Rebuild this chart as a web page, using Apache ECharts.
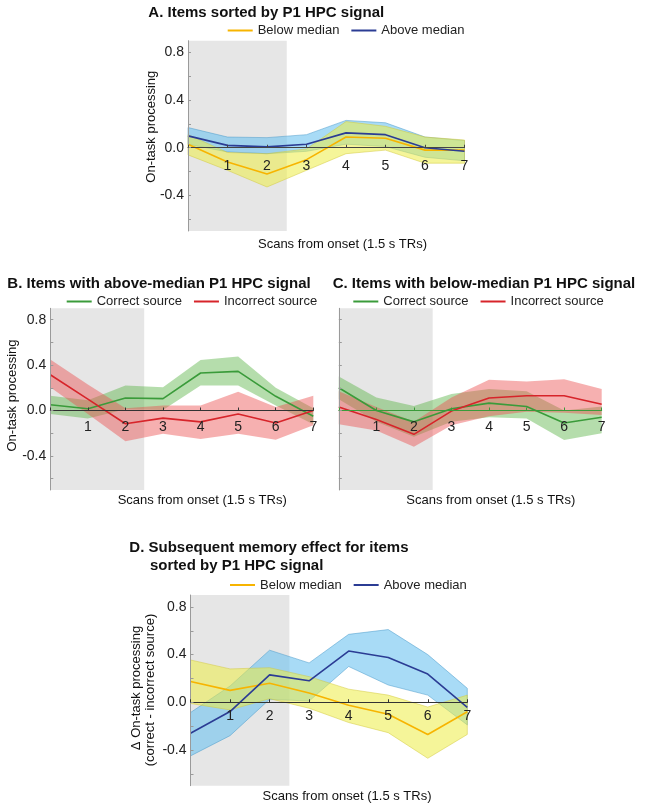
<!DOCTYPE html>
<html>
<head>
<meta charset="utf-8">
<script src="https://cdn.jsdelivr.net/npm/echarts@6/dist/echarts.min.js"></script>
<style>
html,body{margin:0;padding:0;background:#fff;}
#chart{width:647px;height:811px;}
</style>
</head>
<body>
<div id="chart"></div>
<script>
// ---------- data ----------
var xs = [0, 1, 2, 3, 4, 5, 6, 7];
var xTickLabels = ['', '1', '2', '3', '4', '5', '6', '7'];
var yTickValues = [-0.6, -0.4, -0.2, 0, 0.2, 0.4, 0.6, 0.8];
var yLabelValues = [-0.4, 0, 0.4, 0.8];
var yMin = -0.7, yMax = 0.9;
var shadeStart = 0, shadeEnd = 2.5;

// Panel A: items sorted by P1 HPC signal
var aBelow    = [0.03, -0.12, -0.22, -0.10, 0.09, 0.08, -0.02, -0.02];
var aBelowUp  = [0.11, -0.04, -0.05, -0.01, 0.22, 0.18, 0.09, 0.065];
var aBelowLo  = [-0.06, -0.19, -0.33, -0.19, -0.05, -0.02, -0.13, -0.13];
var aAbove    = [0.10, 0.02, 0.007, 0.03, 0.125, 0.11, 0.0, -0.03];
var aAboveUp  = [0.17, 0.09, 0.085, 0.11, 0.23, 0.21, 0.09, 0.06];
var aAboveLo  = [0.03, -0.035, -0.05, -0.03, 0.03, 0.01, -0.08, -0.11];

// Panel B: above-median P1 HPC signal
var bCorrect     = [0.05, 0.015, 0.11, 0.105, 0.33, 0.345, 0.125, -0.05];
var bCorrectUp   = [0.13, 0.09, 0.22, 0.205, 0.445, 0.475, 0.20, 0.02];
var bCorrectLo   = [-0.03, -0.07, 0.01, 0.005, 0.22, 0.22, 0.045, -0.12];
var bIncorrect   = [0.315, 0.10, -0.117, -0.067, -0.10, -0.03, -0.11, 0.0];
var bIncorrectUp = [0.45, 0.23, 0.02, 0.045, 0.045, 0.165, 0.03, 0.13];
var bIncorrectLo = [0.205, -0.03, -0.27, -0.205, -0.25, -0.205, -0.257, -0.13];

// Panel C: below-median P1 HPC signal
var cCorrect     = [0.2, 0.0, -0.1, 0.015, 0.065, 0.035, -0.11, -0.06];
var cCorrectUp   = [0.3, 0.115, 0.04, 0.145, 0.19, 0.17, 0.0, 0.035];
var cCorrectLo   = [0.1, -0.1, -0.23, -0.1, -0.06, -0.07, -0.26, -0.2];
var cIncorrect   = [0.03, -0.08, -0.21, -0.005, 0.11, 0.13, 0.13, 0.055];
var cIncorrectUp = [0.17, 0.03, -0.1, 0.115, 0.27, 0.255, 0.275, 0.19];
var cIncorrectLo = [-0.12, -0.175, -0.32, -0.13, -0.05, -0.01, -0.02, -0.04];

// Panel D: subsequent memory effect
var dBelow    = [0.175, 0.1, 0.16, 0.078, -0.025, -0.1, -0.27, -0.08];
var dBelowUp  = [0.355, 0.28, 0.29, 0.215, 0.11, 0.06, -0.04, 0.06];
var dBelowLo  = [-0.01, -0.064, 0.03, -0.05, -0.17, -0.255, -0.47, -0.27];
var dAbove    = [-0.26, -0.078, 0.23, 0.18, 0.43, 0.376, 0.237, -0.042];
var dAboveUp  = [-0.086, 0.136, 0.437, 0.33, 0.57, 0.61, 0.4, 0.117];
var dAboveLo  = [-0.45, -0.28, 0.025, 0.01, 0.3, 0.145, 0.06, -0.19];

// ---------- style ----------
var FONT = '"Liberation Sans", Arial, Helvetica, sans-serif';
var C_YEL = '#F7B400', C_BLU = '#2B3C94', C_GRN = '#3A9B3A', C_RED = '#D7242A';
var F_YEL = 'rgba(236,236,70,0.55)', F_BLU = 'rgba(110,195,240,0.6)';
var F_GRN = 'rgba(90,180,70,0.45)', F_RED = 'rgba(236,80,80,0.45)';
var E_YEL = 'rgba(210,200,60,0.7)', E_BLU = 'rgba(70,150,200,0.7)';

var grids = [
  {left: 188, top: 40.7, width: 276.5, height: 190.3},
  {left: 50.3, top: 308.3, width: 263, height: 181.7},
  {left: 338.8, top: 308.3, width: 262.9, height: 181.7},
  {left: 190.5, top: 595, width: 276.8, height: 190.7}
];
var xLabelMargins = [11, 10, 10, 7];

function xAxisFor(idx, color) {
  // place the axis (line, ticks, labels) on the y = 0 level of its grid
  var zeroOffset = -grids[idx].height * (0 - yMin) / (yMax - yMin);
  return {
    gridIndex: idx, type: 'value', min: 0, max: 7, interval: 1, z: 10,
    position: 'bottom', offset: zeroOffset,
    splitLine: {show: false},
    axisLine: {show: true, onZero: false, lineStyle: {color: color, width: 1}},
    axisTick: {show: true, inside: true, length: 3, lineStyle: {color: color}},
    axisLabel: {formatter: function (v) { return xTickLabels[v]; }, margin: xLabelMargins[idx],
      fontSize: 14, color: '#222', fontFamily: FONT, showMinLabel: true, showMaxLabel: true}
  };
}
function yAxisFor(idx, showLabels) {
  return {
    gridIndex: idx, type: 'value', min: yMin, max: yMax, z: 10,
    splitLine: {show: false},
    axisLine: {show: true, onZero: false, lineStyle: {color: '#9a9a9a', width: 1}},
    axisTick: {show: true, inside: true, length: 3, customValues: yTickValues, lineStyle: {color: '#9a9a9a'}},
    axisLabel: {show: showLabels, customValues: yLabelValues, formatter: function (v) { return v.toFixed(1); },
      margin: 4, fontSize: 14, color: '#222', fontFamily: FONT}
  };
}
function shade(idx) {
  return {
    type: 'custom', xAxisIndex: idx, yAxisIndex: idx, z: 1, silent: true,
    data: [[shadeStart, shadeEnd]],
    encode: {x: [0, 1]},
    renderItem: function (params, api) {
      var p0 = api.coord([shadeStart, yMax]);
      var p1 = api.coord([shadeEnd, yMin]);
      return {type: 'rect', shape: {x: p0[0], y: p0[1], width: p1[0] - p0[0], height: p1[1] - p0[1]},
        style: {fill: '#e6e6e6'}};
    }
  };
}
function band(idx, lo, up, fill, stroke, z) {
  return {
    type: 'custom', xAxisIndex: idx, yAxisIndex: idx, z: z, silent: true,
    data: xs.map(function (x, i) { return [x, lo[i], up[i]]; }),
    encode: {x: 0, y: [1, 2]},
    renderItem: function (params, api) {
      if (params.dataIndex !== 0) return null;
      var pts = [], i;
      for (i = 0; i < xs.length; i++) pts.push(api.coord([xs[i], up[i]]));
      for (i = xs.length - 1; i >= 0; i--) pts.push(api.coord([xs[i], lo[i]]));
      return {type: 'polygon', shape: {points: pts}, style: {fill: fill, stroke: stroke, lineWidth: 0.7}};
    }
  };
}
function line(idx, name, vals, color) {
  return {
    type: 'line', name: name, xAxisIndex: idx, yAxisIndex: idx, z: 5,
    data: xs.map(function (x, i) { return [x, vals[i]]; }),
    symbol: 'none', showSymbol: false, silent: true,
    itemStyle: {color: color},
    lineStyle: {color: color, width: 1.6}
  };
}
function legendFor(names, left, top) {
  return {
    data: names, left: left, top: top, orient: 'horizontal',
    icon: 'rect', itemWidth: 25, itemHeight: 2, itemGap: 12, selectedMode: false,
    padding: 0,
    textStyle: {fontSize: 13, color: '#222', fontFamily: FONT}
  };
}
function txt(s, x, y, font, rot, align) {
  return {
    type: 'text', x: x, y: y, rotation: rot || 0, silent: true, z: 20,
    style: {text: s, font: font, fill: '#111', align: align || 'left', verticalAlign: 'middle'}
  };
}
var TITLE_FONT = 'bold 15px ' + FONT;
var NAME_FONT = '13px ' + FONT;

var option = {
  animation: false,
  backgroundColor: '#fff',
  grid: grids.map(function (g) { return Object.assign({show: false, containLabel: false}, g); }),
  xAxis: [xAxisFor(0, '#444'), xAxisFor(1, '#333'), xAxisFor(2, C_GRN), xAxisFor(3, '#333')],
  yAxis: [yAxisFor(0, true), yAxisFor(1, true), yAxisFor(2, false), yAxisFor(3, true)],
  legend: [
    legendFor(['Below median', 'Above median'], 227.7, 24),
    legendFor(['Correct source', 'Incorrect source'], 66.7, 295),
    legendFor(['Correct source', 'Incorrect source'], 353.3, 295),
    legendFor(['Below median', 'Above median'], 230, 578.5)
  ],
  series: [
    shade(0), band(0, aAboveLo, aAboveUp, F_BLU, E_BLU, 2), band(0, aBelowLo, aBelowUp, F_YEL, E_YEL, 3),
    line(0, 'Below median', aBelow, C_YEL), line(0, 'Above median', aAbove, C_BLU),

    shade(1), band(1, bCorrectLo, bCorrectUp, F_GRN, 'none', 2), band(1, bIncorrectLo, bIncorrectUp, F_RED, 'none', 3),
    line(1, 'Correct source', bCorrect, C_GRN), line(1, 'Incorrect source', bIncorrect, C_RED),

    shade(2), band(2, cCorrectLo, cCorrectUp, F_GRN, 'none', 2), band(2, cIncorrectLo, cIncorrectUp, F_RED, 'none', 3),
    line(2, 'Correct source', cCorrect, C_GRN), line(2, 'Incorrect source', cIncorrect, C_RED),

    shade(3), band(3, dAboveLo, dAboveUp, F_BLU, E_BLU, 2), band(3, dBelowLo, dBelowUp, F_YEL, E_YEL, 3),
    line(3, 'Below median', dBelow, C_YEL), line(3, 'Above median', dAbove, C_BLU)
  ],
  graphic: [
    txt('A. Items sorted by P1 HPC signal', 148.3, 13.3, TITLE_FONT),
    txt('B. Items with above-median P1 HPC signal', 7.3, 284, TITLE_FONT),
    txt('C. Items with below-median P1 HPC signal', 332.7, 284, TITLE_FONT),
    txt('D. Subsequent memory effect for items', 129.3, 548.3, TITLE_FONT),
    txt('sorted by P1 HPC signal', 150, 566, TITLE_FONT),

    txt('On-task processing', 151.7, 126.7, NAME_FONT, Math.PI / 2, 'center'),
    txt('On-task processing', 12.3, 395.5, NAME_FONT, Math.PI / 2, 'center'),
    txt('\u0394 On-task processing', 136.7, 688, NAME_FONT, Math.PI / 2, 'center'),
    txt('(correct - incorrect source)', 150.5, 690, NAME_FONT, Math.PI / 2, 'center'),

    txt('Scans from onset (1.5 s TRs)', 342.5, 244.5, NAME_FONT, 0, 'center'),
    txt('Scans from onset (1.5 s TRs)', 202.2, 500, NAME_FONT, 0, 'center'),
    txt('Scans from onset (1.5 s TRs)', 490.8, 500, NAME_FONT, 0, 'center'),
    txt('Scans from onset (1.5 s TRs)', 347, 796.7, NAME_FONT, 0, 'center')
  ]
};

var chart = echarts.init(document.getElementById('chart'), null, {renderer: 'canvas', width: 647, height: 811});
chart.setOption(option);
</script>
</body>
</html>
